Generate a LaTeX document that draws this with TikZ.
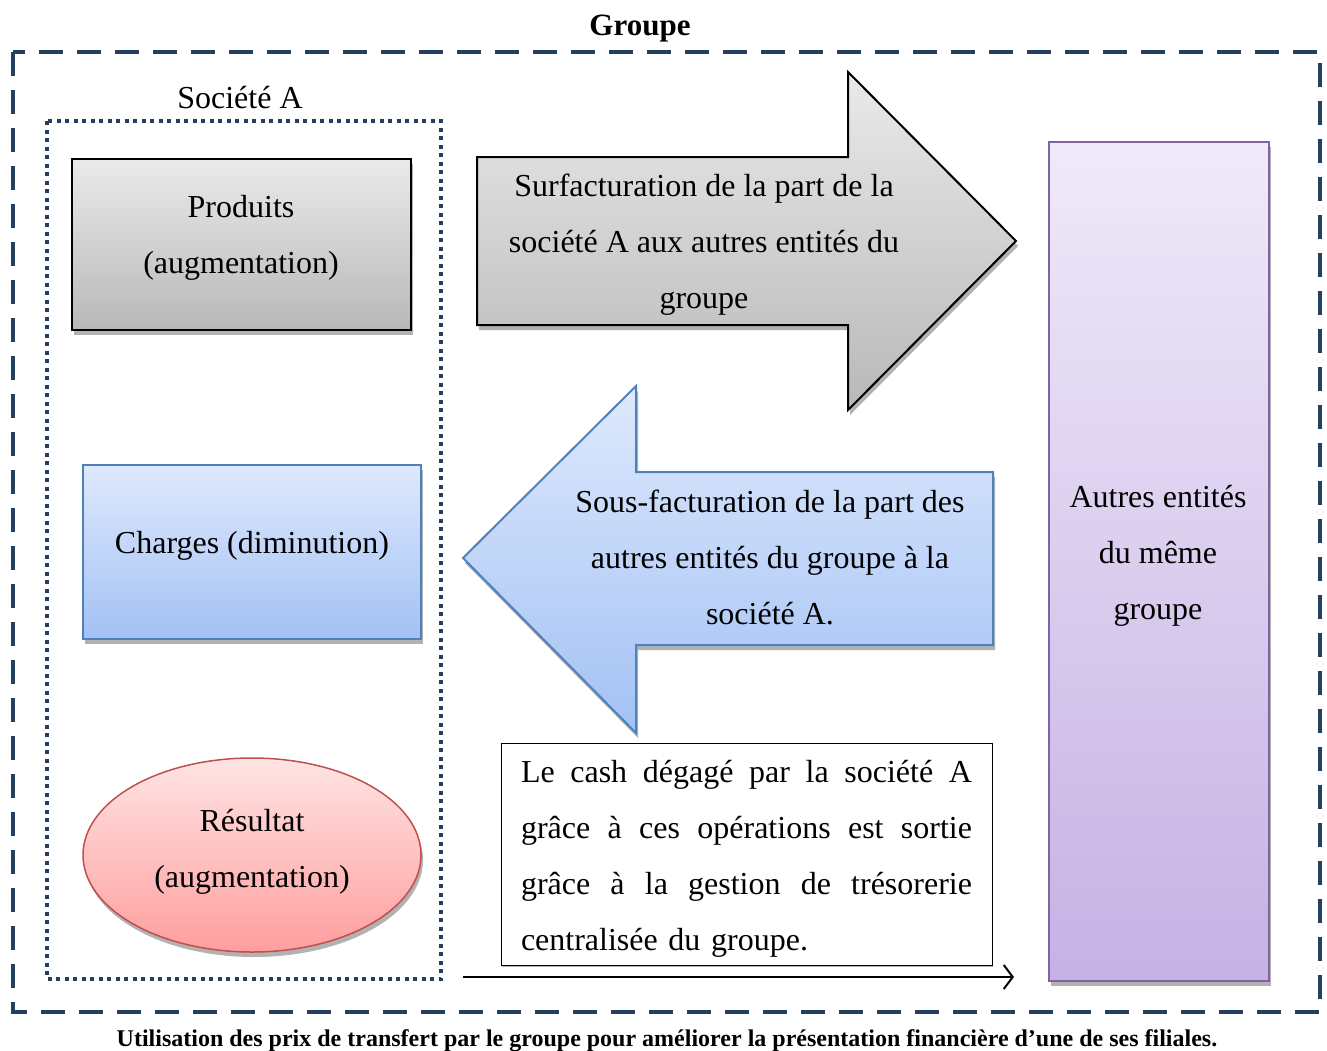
\documentclass[tikz,border=0pt]{standalone}
\usepackage{fontspec}
\setmainfont{Liberation Serif}
\usetikzlibrary{shadows,arrows.meta}
\definecolor{navy}{HTML}{243F60}
\definecolor{grayT}{HTML}{EAEAEA}
\definecolor{grayB}{HTML}{B8B8B8}
\definecolor{blueT}{HTML}{DEE9FD}
\definecolor{blueB}{HTML}{A3C1F4}
\definecolor{blueD}{HTML}{4F81BD}
\definecolor{pinkT}{HTML}{FFE4E4}
\definecolor{pinkB}{HTML}{FF9E9E}
\definecolor{pinkD}{HTML}{C0504D}
\definecolor{purpT}{HTML}{EFEAF9}
\definecolor{purpB}{HTML}{C6B1E4}
\definecolor{purpD}{HTML}{8064A2}
\newcommand{\jline}[1]{{\spaceskip=0pt\xspaceskip=0pt\makebox[451pt][s]{#1}}}
\tikzset{
  txt/.style={font=\fontsize{32}{56}\selectfont, align=center, inner sep=0pt},
  shad/.style={drop shadow={shadow xshift=2pt, shadow yshift=-5pt, fill=black, opacity=.3}},
  graybox/.style={draw=black, line width=2pt, top color=grayT, bottom color=grayB, shad},
  bluebox/.style={draw=blueD, line width=2pt, top color=blueT, bottom color=blueB, shad},
  pinkbox/.style={draw=pinkD, line width=1.5pt, top color=pinkT, bottom color=pinkB, shad},
  purpbox/.style={draw=purpD, line width=2pt, top color=purpT, bottom color=purpB, shad},
}
\begin{document}
\begin{tikzpicture}[x=1pt,y=-1pt]
\useasboundingbox (0,0) rectangle (1327,1050);
% outer group frame
\draw[navy, line width=4pt, dash pattern=on 24pt off 14pt] (13,52) rectangle (1320,1012);
\node[font=\fontsize{31}{36}\selectfont\bfseries, inner sep=0pt] (groupe) at (640,29) {Groupe};
% Société A frame
\draw[navy, line width=3.5pt, dash pattern=on 4pt off 4.5pt] (47,121) rectangle (441,979);
\node[txt] (socA) at (240,98) {Société A};
% Produits
\path[graybox] (72,159) rectangle (411,330);
\node[txt] (prod) at (241,238) {Produits\\(augmentation)};
% Charges
\path[bluebox] (83,465) rectangle (421,639);
\node[txt] (charg) at (252,546) {Charges (diminution)};
% Résultat
\path[pinkbox] (252,855) ellipse [x radius=169, y radius=97];
\node[txt] (res) at (252,852) {Résultat\\(augmentation)};
% gray arrow
\path[graybox] (477,157) -- (848,157) -- (848,72) -- (1016,241) -- (848,410) -- (848,325) -- (477,325) -- cycle;
\node[txt] (surf) at (704,245) {Surfacturation de la part de la\\société A aux autres entités du\\groupe};
% blue arrow
\path[bluebox] (993,472) -- (636,472) -- (636,386) -- (463,558) -- (636,733) -- (636,645) -- (993,645) -- cycle;
\node[txt] (sous) at (770,557) {Sous-facturation de la part des\\autres entités du groupe à la\\société A.};
% purple box
\path[purpbox] (1049,142) rectangle (1269,981);
\node[txt] (autres) at (1158,556) {Autres entités\\du même\\groupe};
% cash text box
\path[draw=black, line width=0.9pt, fill=white,
      drop shadow={shadow xshift=1pt, shadow yshift=-2pt, fill=black, opacity=.3}] (501,743) rectangle (992,965);
\node[font=\fontsize{32}{56}\selectfont, align=left, inner sep=0pt, text width=451pt] (cash) at (746.5,859)
  {\jline{Le cash dégagé par la société A}\\
   \jline{grâce à ces opérations est sortie}\\
   \jline{grâce à la gestion de trésorerie}\\
   centralisée du groupe.};
% bottom arrow
\coordinate (a0) at (463,977);
\coordinate (a1) at (1014,977);
\draw[line width=2pt, -{Straight Barb[length=9pt, width=24pt, line width=2pt]}] (a0) -- (a1);
% caption
\node[inner sep=0pt, font=\fontsize{24}{26}\selectfont\bfseries] (cap) at (667,1041)
  {Utilisation des prix de transfert par le groupe pour améliorer la présentation financière d’une de ses filiales.};
\end{tikzpicture}
\end{document}
